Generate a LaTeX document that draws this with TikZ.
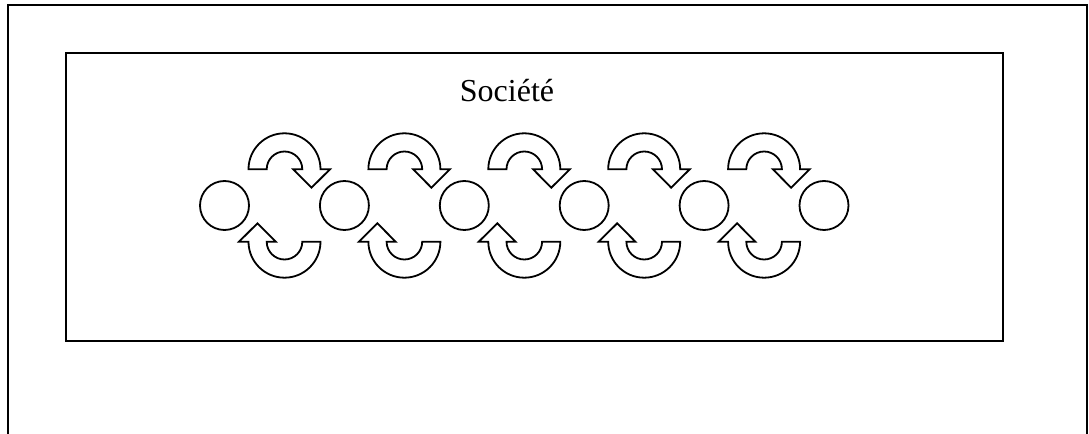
\documentclass[tikz,border=0pt]{standalone}
\usepackage{fontspec}
\setmainfont{Liberation Serif}
\usepackage{tikz}
\usetikzlibrary{positioning}
\tikzstyle{frame} = [draw=black, line width=1pt]
\tikzstyle{member} = [circle, draw=black, line width=0.9pt, minimum size=49pt*0.5, inner sep=0pt]
\tikzstyle{turn} = [draw=black, fill=white, line width=0.9pt, line join=miter]
\tikzstyle{title} = [anchor=base, font=\fontsize{16}{19}\selectfont]
\tikzset{
  turnarrow/.pic={
    \path[turn] (-36,0) arc[start angle=180, end angle=0, radius=36]
      -- (45.5,0) -- (27,-18.4) -- (8.8,0) -- (17.8,0)
      arc[start angle=0, end angle=180, radius=17.8] -- cycle;
  }
}

\begin{document}
\begin{tikzpicture}[x=0.5pt, y=0.5pt]
\useasboundingbox (0,0) rectangle (1089,434);

% Frames
\draw [frame] (7.5,0) -- (7.5,429) -- (1086.5,429) -- (1086.5,0);
\draw [frame] (65.5,93) rectangle (1002.7,381.3);
\node (label) [title] at (507,332.3) {Société};

% Members
\foreach \i in {0,...,5}
  \node (m\i) [member] at (224.5+119.9*\i,228.5) {};

% Arrows between members
\foreach \i in {0,...,4} {
  \pic at (284.5+119.9*\i,264.7) {turnarrow};
  \pic [rotate=180] at (284.5+119.9*\i,192.3) {turnarrow};
}

\end{tikzpicture}
\end{document}
